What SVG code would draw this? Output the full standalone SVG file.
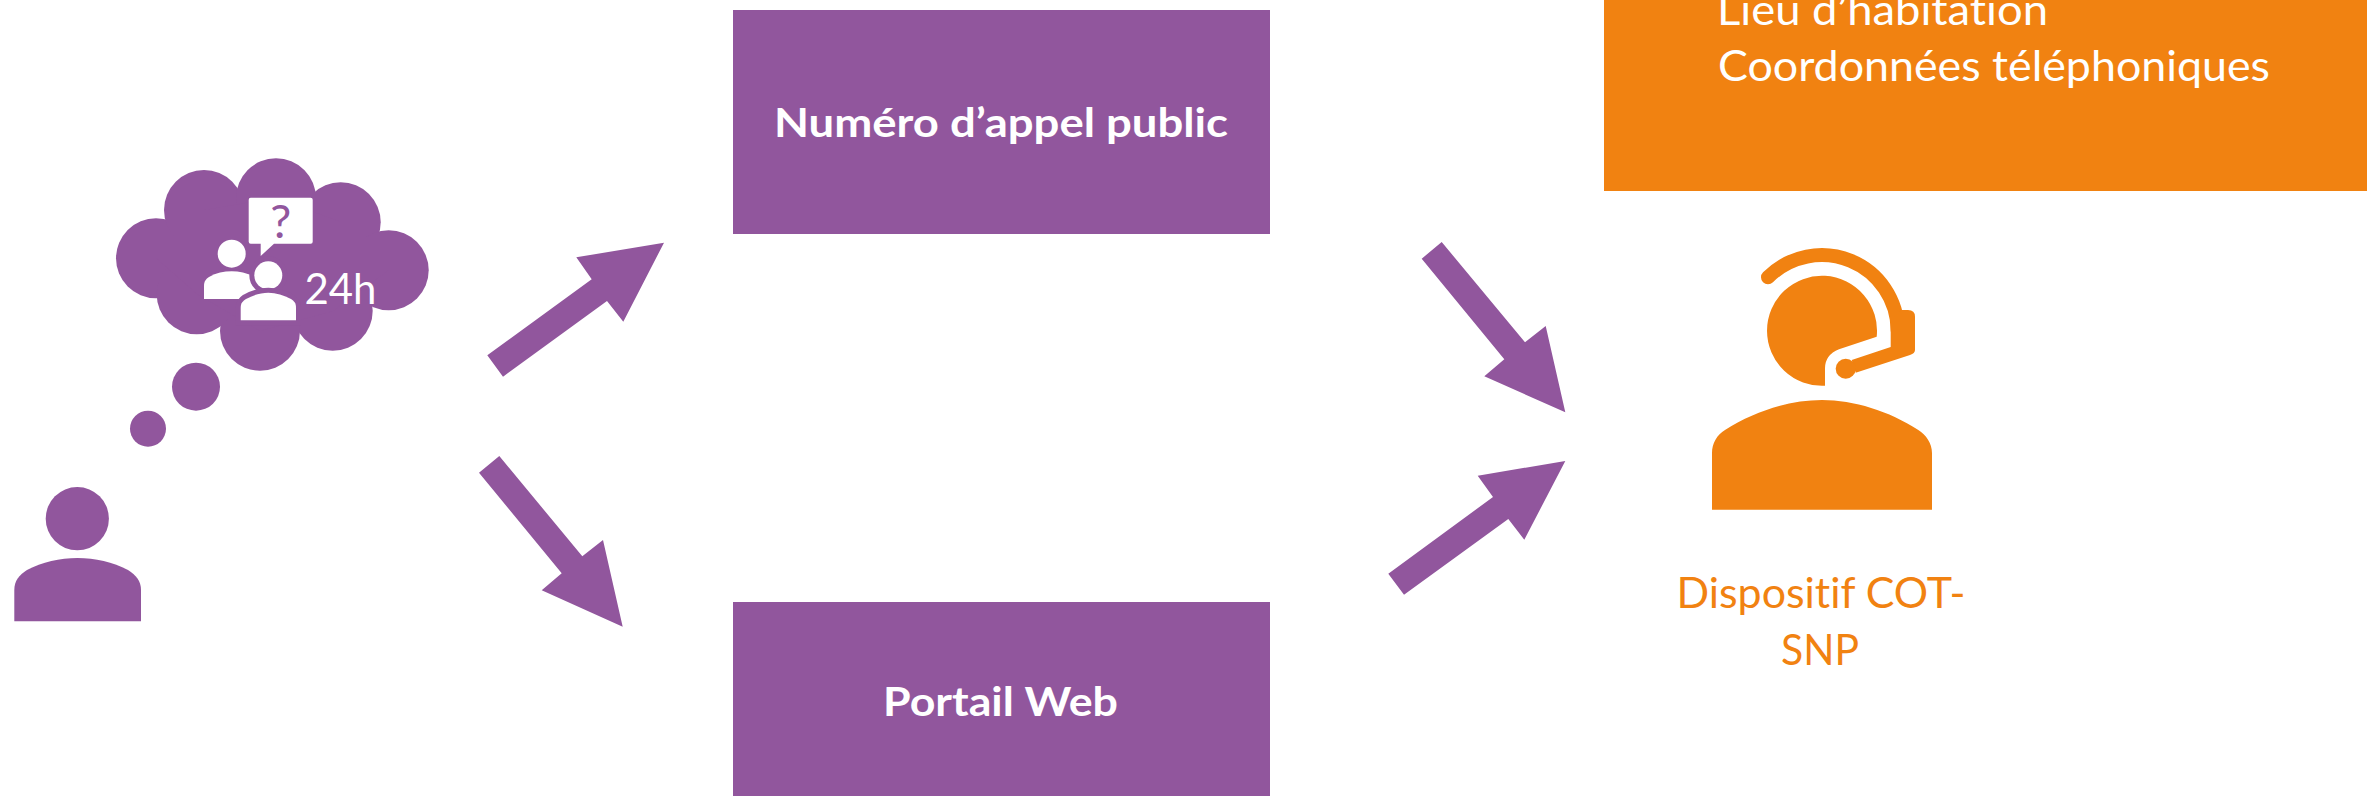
<svg xmlns="http://www.w3.org/2000/svg" width="2367" height="796" viewBox="0 0 2367 796">
<style>
.p{fill:#91569D}
.o{fill:#F18211}
.w{fill:#fff}
text{font-family:"Lato","Liberation Sans",sans-serif;font-size:42px;font-variant-ligatures:none}
.b{font-weight:700;fill:#fff;font-size:41px}
.t{fill:#fff}
.ot{fill:#F18211}
</style>
<rect width="2367" height="796" fill="#fff"/>
<g id="user">
<circle class="p" cx="77.3" cy="518.7" r="31.6"/>
<path class="p" d="M14.3 621.3V590C14.3 581 19 575 27 570C42 562 60 558 77.5 558C95 558 113 562 128 570C136 575 141 581 141 590V621.3Z"/>
</g>
<g id="thought-cloud">
<circle class="p" cx="148" cy="428.7" r="18"/>
<circle class="p" cx="196" cy="386.7" r="24"/>
<circle class="p" cx="156" cy="258.3" r="40"/>
<circle class="p" cx="204" cy="210" r="40"/>
<circle class="p" cx="276" cy="198.3" r="40"/>
<circle class="p" cx="340.7" cy="222.3" r="40"/>
<circle class="p" cx="388.7" cy="270.3" r="40"/>
<circle class="p" cx="332.7" cy="310.7" r="40"/>
<circle class="p" cx="260" cy="330.7" r="40"/>
<circle class="p" cx="196.7" cy="294.3" r="40"/>
<polygon class="p" points="156,258 204,210 276,198 341,222 389,270 333,311 260,331 197,294"/>
<path class="w" d="M250.7 197.7H310.7Q312.7 197.7 312.7 199.7V241.7Q312.7 243.7 310.7 243.7H274L260.7 256V243.7H250.7Q248.7 243.7 248.7 241.7V199.7Q248.7 197.7 250.7 197.7Z"/>
<text x="280.7" y="237.5" text-anchor="middle" class="p" style="font-size:47px">?</text>
<circle class="w" cx="231.7" cy="253.7" r="14"/>
<path class="w" d="M204 299V286C204 281 206 279 209 277C216 273 224 271.3 231.7 271.3C239 271.3 247 273 254 277C257 279 259.3 281 259.3 286V299Z"/>
<circle class="w" cx="268.3" cy="275.3" r="14" stroke="#91569D" stroke-width="10" paint-order="stroke"/>
<path class="w" stroke="#91569D" stroke-width="10" paint-order="stroke" d="M240.7 320.3V307.5C240.7 303 243 301 246 299C253 295 261 292.7 268.3 292.7C276 292.7 284 295 291 299C294 301 296 303 296 307.5V320.3Z"/>
<text class="t" x="304.5" y="304" textLength="72" lengthAdjust="spacingAndGlyphs">24h</text>
</g>
<g id="numero">
<rect class="p" x="733" y="10" width="537" height="224"/>
<text class="b" x="774" y="137" textLength="454" lengthAdjust="spacingAndGlyphs">Numéro d’appel public</text>
</g>
<g id="portail">
<rect class="p" x="733" y="602" width="537" height="194"/>
<text class="b" x="883" y="716" textLength="235" lengthAdjust="spacingAndGlyphs">Portail Web</text>
</g>
<g id="info">
<rect class="o" x="1604" y="0" width="763" height="191"/>
<text class="t" x="1717" y="25" textLength="331" lengthAdjust="spacingAndGlyphs">Lieu d’habitation</text>
<text class="t" x="1718" y="81" textLength="552" lengthAdjust="spacingAndGlyphs">Coordonnées téléphoniques</text>
</g>
<g id="operator">
<path class="o" d="M1825 385.7V368.3Q1825 355 1839 349.3L1876.7 336.7A55 55 0 1 0 1825 385.7Z"/>
<path d="M1768 277.3A76 76 0 0 1 1897.7 330.7" fill="none" stroke="#F18211" stroke-width="14" stroke-linecap="round"/>
<path class="o" d="M1890.7 330V347L1851.7 360L1855.7 372.7L1910 355Q1915 353.3 1915 350V316.7Q1915 310 1908 310H1901.7L1890.7 320Z"/>
<circle class="o" cx="1845.7" cy="368.7" r="10"/>
<path class="o" d="M1712 509.7V453.3C1712 443 1717 435 1725 430C1755 411 1790 400 1822 400C1854 400 1889 411 1918.3 430C1926 435 1932 443 1932 453.3V509.7Z"/>
<text class="ot" x="1676.5" y="608.3" textLength="289" lengthAdjust="spacingAndGlyphs">Dispositif COT-</text>
<text class="ot" x="1781" y="665" textLength="78" lengthAdjust="spacingAndGlyphs">SNP</text>
</g>
<g id="connectors">
<polygon class="p" points="487.3,355.3 503,376.7 607,301 623.3,321.7 664,242.7 576.3,257.3 591.7,279.3"/>
<polygon class="p" points="499.3,456 479,472.7 561.7,573.3 541.7,590.3 622.7,626.7 603,540 582.3,556.3"/>
<polygon class="p" points="1441.7,242 1421.7,258.7 1504.3,359.3 1484.3,376.3 1565.3,412.3 1545.7,326 1525,342.3"/>
<polygon class="p" points="1388.3,573.7 1404,594.7 1508.3,519 1524.3,539.7 1565.3,461 1477.7,475.7 1493,497"/>
</g>
</svg>
